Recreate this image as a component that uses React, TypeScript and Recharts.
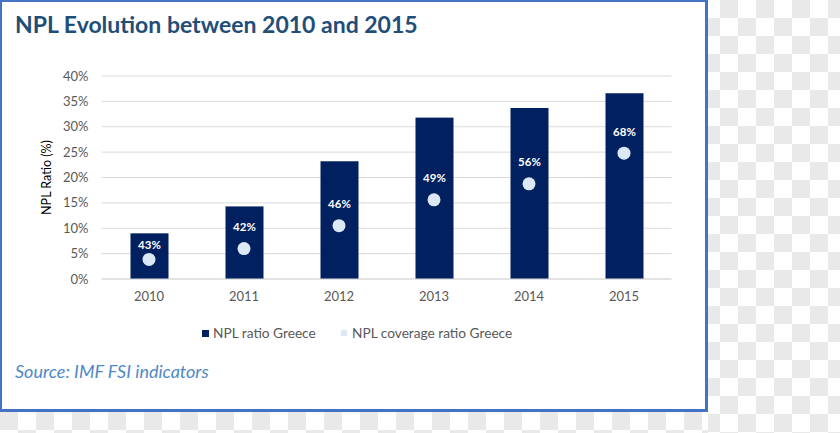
import React from 'react';
import { ComposedChart, Bar, Scatter, XAxis, YAxis, CartesianGrid } from 'recharts';

const years = ['2010', '2011', '2012', '2013', '2014', '2015'];
const nplRatio = [9.0, 14.3, 23.2, 31.8, 33.7, 36.6];
const coveredPoint = [3.85, 6.0, 10.5, 15.6, 18.75, 24.8];
const coverageLabels = ['43%', '42%', '46%', '49%', '56%', '68%'];
const yTicks = [0, 5, 10, 15, 20, 25, 30, 35, 40];

const data = years.map((y, i) => ({
  year: y,
  npl: nplRatio[i],
  covered: coveredPoint[i],
  coverage: coverageLabels[i],
}));

const NAVY = '#002060';
const LIGHT = '#dde8f5';
const FONT = 'Lato, "Open Sans", sans-serif';

const checker = {
  backgroundImage: 'repeating-conic-gradient(#e9e9e9 0 25%, #ffffff 0 50%)',
  backgroundSize: '36px 36px',
};

const BarShape = (p: any) => {
  const { x, y, width, height, payload } = p;
  const dotY = y + height * (1 - payload.covered / payload.npl);
  const labelY = Math.max(dotY - 22, y + 11);
  return (
    <g>
      <rect x={x} y={y} width={width} height={height} fill={NAVY} />
      <text
        x={x + width / 2}
        y={labelY}
        textAnchor="middle"
        dominantBaseline="central"
        fill="#ffffff"
        fontWeight={700}
        fontSize={11.5}
        fontFamily={FONT}
      >
        {payload.coverage}
      </text>
    </g>
  );
};

const DotShape = (p: any) => <circle cx={p.cx} cy={p.cy} r={6.5} fill={LIGHT} />;

export default function App() {
  return (
    <div style={{ position: 'absolute', left: 0, top: 0, width: 840, height: 433, overflow: 'hidden', background: '#fff' }}>
      <div style={{ position: 'absolute', left: 708, top: 0, width: 132, height: 433, ...checker, backgroundPosition: '-6px 0px' }} />
      <div style={{ position: 'absolute', left: 0, top: 412, width: 708, height: 21, ...checker, backgroundPosition: '0px -18px' }} />
      <div
        style={{
          position: 'absolute',
          left: -1,
          top: -1,
          width: 709,
          height: 413,
          border: '3px solid #4472C4',
          boxSizing: 'border-box',
          background: '#fff',
        }}
      />
      <div
        style={{
          position: 'absolute',
          left: 15,
          top: 8,
          fontFamily: FONT,
          fontWeight: 700,
          fontSize: 23,
          color: '#1f4e79',
          whiteSpace: 'nowrap',
          lineHeight: '32px',
        }}
      >
        NPL Evolution between 2010 and 2015
      </div>
      <div style={{ position: 'absolute', left: 0, top: 0 }}>
        <ComposedChart width={708} height={330} data={data} margin={{ top: 76, right: 36.5, left: 41.5, bottom: 21 }}>
          <CartesianGrid vertical={false} stroke="#d9d9d9" />
          <XAxis
            dataKey="year"
            height={30}
            tickSize={0}
            tickMargin={13}
            axisLine={{ stroke: '#d9d9d9' }}
            tick={{ fill: '#595959', fontSize: 13, fontFamily: FONT }}
          />
          <YAxis
            width={60}
            domain={[0, 40]}
            ticks={yTicks}
            tickFormatter={(v: number) => `${v}%`}
            tickSize={0}
            tickMargin={13}
            axisLine={false}
            tickLine={false}
            tick={{ fill: '#595959', fontSize: 13, fontFamily: FONT }}
            label={{
              value: 'NPL Ratio (%)',
              angle: -90,
              position: 'insideLeft',
              offset: 5,
              style: { textAnchor: 'middle', fill: '#000', fontSize: 12.5, fontFamily: FONT },
            }}
          />
          <Bar dataKey="npl" barSize={38} shape={BarShape} isAnimationActive={false} />
          <Scatter dataKey="covered" shape={DotShape} isAnimationActive={false} />
        </ComposedChart>
      </div>
      <div style={{ position: 'absolute', left: 202, top: 330, width: 7, height: 7, background: NAVY }} />
      <div style={{ position: 'absolute', left: 213, top: 324, fontFamily: FONT, fontSize: 13.7, color: '#595959', lineHeight: '18px', whiteSpace: 'nowrap' }}>
        NPL ratio Greece
      </div>
      <div style={{ position: 'absolute', left: 341, top: 330, width: 6, height: 6, background: LIGHT }} />
      <div style={{ position: 'absolute', left: 352, top: 324, fontFamily: FONT, fontSize: 13.7, color: '#595959', lineHeight: '18px', whiteSpace: 'nowrap' }}>
        NPL coverage ratio Greece
      </div>
      <div
        style={{
          position: 'absolute',
          left: 15,
          top: 359,
          fontFamily: FONT,
          fontStyle: 'italic',
          fontSize: 18,
          color: '#4f88c6',
          lineHeight: '24px',
          whiteSpace: 'nowrap',
        }}
      >
        Source: IMF FSI indicators
      </div>
    </div>
  );
}
